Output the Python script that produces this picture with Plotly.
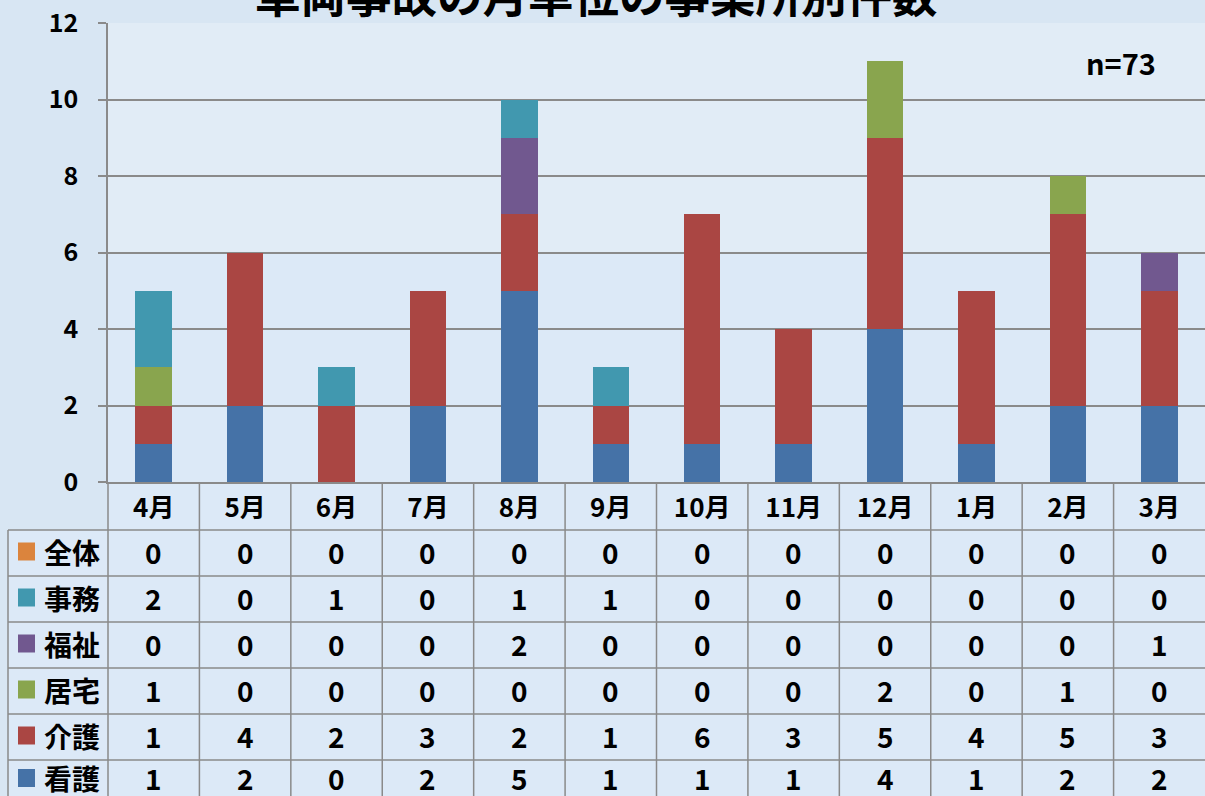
import plotly.graph_objects as go

# ---- data ----
months = ["4月", "5月", "6月", "7月", "8月", "9月", "10月", "11月", "12月", "1月", "2月", "3月"]
zentai = [0, 0, 0, 0, 0, 0, 0, 0, 0, 0, 0, 0]
jimu = [2, 0, 1, 0, 1, 1, 0, 0, 0, 0, 0, 0]
fukushi = [0, 0, 0, 0, 2, 0, 0, 0, 0, 0, 0, 1]
kyotaku = [1, 0, 0, 0, 0, 0, 0, 0, 2, 0, 1, 0]
kaigo = [1, 4, 2, 3, 2, 1, 6, 3, 5, 4, 5, 3]
kango = [1, 2, 0, 2, 5, 1, 1, 1, 4, 1, 2, 2]
y_ticks = [0, 2, 4, 6, 8, 10, 12]
title_text = "車両事故の月単位の事業所別件数"
n_text = "n=73"

# stacking order bottom -> top
series = [
    ("看護", kango, "#4572a7"),
    ("介護", kaigo, "#aa4643"),
    ("居宅", kyotaku, "#89a54e"),
    ("福祉", fukushi, "#71588f"),
    ("事務", jimu, "#4198af"),
    ("全体", zentai, "#db843d"),
]
# table rows top -> bottom
table_rows = list(reversed(series))

W, H = 1205, 796
ML, MR, MT, MB = 108, 0, 23, 314
PW = W - ML - MR
PH = H - MT - MB
Y0PX = MT + PH


def px_x(p):
    return (p - ML) / PW


def px_y(p):
    return (Y0PX - p) / PH


NUMFONT = "Liberation Sans Narrow, Noto Sans CJK JP, sans-serif"
CJKFONT = "Noto Sans CJK JP, sans-serif"
GRID = "#8a8a8a"
CELL = "#dce9f7"
BG = "#d8e6f3"
PLOTBG = "#e1ecf6"

fig = go.Figure()
for name, vals, col in series:
    fig.add_trace(go.Bar(
        x=months, y=vals, name=name,
        marker=dict(color=col, line=dict(width=0)),
        showlegend=False,
    ))

shapes = []
annotations = []

# light band in plot area (0-6)
shapes.append(dict(type="rect", xref="paper", yref="y", x0=0, x1=1, y0=0, y1=6,
                   fillcolor=CELL, line=dict(width=0), layer="below"))

# table geometry (pixels)
header_top, header_bot = 482, 530
row_h = 46
row_tops = [header_bot + i * row_h for i in range(len(table_rows))]
table_left = 8
table_bottom = row_tops[-1] + row_h

# cell fills
shapes.append(dict(type="rect", xref="paper", yref="paper",
                   x0=px_x(ML), x1=1.01, y0=px_y(table_bottom), y1=px_y(header_top),
                   fillcolor=CELL, line=dict(width=0), layer="below"))
shapes.append(dict(type="rect", xref="paper", yref="paper",
                   x0=px_x(table_left), x1=px_x(ML), y0=px_y(table_bottom), y1=px_y(header_bot),
                   fillcolor=CELL, line=dict(width=0), layer="below"))

line_style = dict(color=GRID, width=1.5)
# horizontal table lines
for t in row_tops:
    shapes.append(dict(type="line", xref="paper", yref="paper",
                       x0=px_x(table_left), x1=1.01, y0=px_y(t), y1=px_y(t), line=line_style))
# vertical table lines
shapes.append(dict(type="line", xref="paper", yref="paper",
                   x0=px_x(table_left), x1=px_x(table_left), y0=px_y(header_bot), y1=px_y(table_bottom),
                   line=line_style))
for i in range(len(months)):
    xx = i / len(months)
    shapes.append(dict(type="line", xref="paper", yref="paper",
                       x0=xx, x1=xx, y0=px_y(header_top), y1=px_y(table_bottom), line=line_style))

# row labels, legend keys, values
for r, (name, vals, col) in enumerate(table_rows):
    top = row_tops[r]
    cy = top + row_h / 2 - 1.5
    if top + row_h > H:  # last row is cut by the page edge: centre text in its visible part
        cy = (top + H) / 2
    shapes.append(dict(type="rect", xref="paper", yref="paper",
                       x0=px_x(18), x1=px_x(35), y0=px_y(cy + 9), y1=px_y(cy - 9),
                       fillcolor=col, line=dict(width=0)))
    annotations.append(dict(xref="paper", yref="paper", x=px_x(72), y=px_y(cy),
                            text=name, showarrow=False, xanchor="center", yanchor="middle",
                            font=dict(family=CJKFONT, size=28, color="black", weight="bold")))
    for m, v in zip(months, vals):
        annotations.append(dict(xref="x", yref="paper", x=m, y=px_y(cy),
                                text=str(v), showarrow=False, xanchor="center", yanchor="middle",
                                font=dict(family=NUMFONT, size=28, color="black", weight="bold")))

# title (clipped at top, as in the source) and n
annotations.append(dict(xref="paper", yref="paper", x=px_x(596), y=px_y(28),
                        text=title_text, showarrow=False, xanchor="center", yanchor="bottom",
                        font=dict(family=CJKFONT, size=45.5, color="black", weight="bold")))
annotations.append(dict(xref="paper", yref="paper", x=px_x(1121), y=px_y(62),
                        text=n_text, showarrow=False, xanchor="center", yanchor="middle",
                        font=dict(family=NUMFONT, size=29, color="black", weight="bold")))

fig.update_layout(
    width=W, height=H,
    margin=dict(l=ML, r=MR, t=MT, b=MB, pad=0),
    paper_bgcolor=BG, plot_bgcolor=PLOTBG,
    barmode="stack", bargap=0.6,
    shapes=shapes, annotations=annotations,
    xaxis=dict(type="category", range=[-0.5, 11.5], showgrid=False, showline=True,
               linecolor=GRID, linewidth=1.5, ticks="", ticklabelstandoff=2,
               tickfont=dict(family=NUMFONT, size=26, color="black", weight="bold"),
               fixedrange=True),
    yaxis=dict(range=[0, 12], tickvals=y_ticks, showgrid=True, gridcolor=GRID, gridwidth=1.5,
               showline=True, linecolor=GRID, linewidth=1.5, ticks="outside", ticklen=8,
               tickcolor=GRID, tickwidth=1.5, ticklabelstandoff=15, zeroline=False,
               tickfont=dict(family=NUMFONT, size=25, color="black", weight="bold"),
               fixedrange=True),
    showlegend=False,
)

fig.write_html(
    "out.html",
    config={"displayModeBar": False},
    post_script="document.body.style.margin='0';document.body.style.overflow='hidden';",
)
